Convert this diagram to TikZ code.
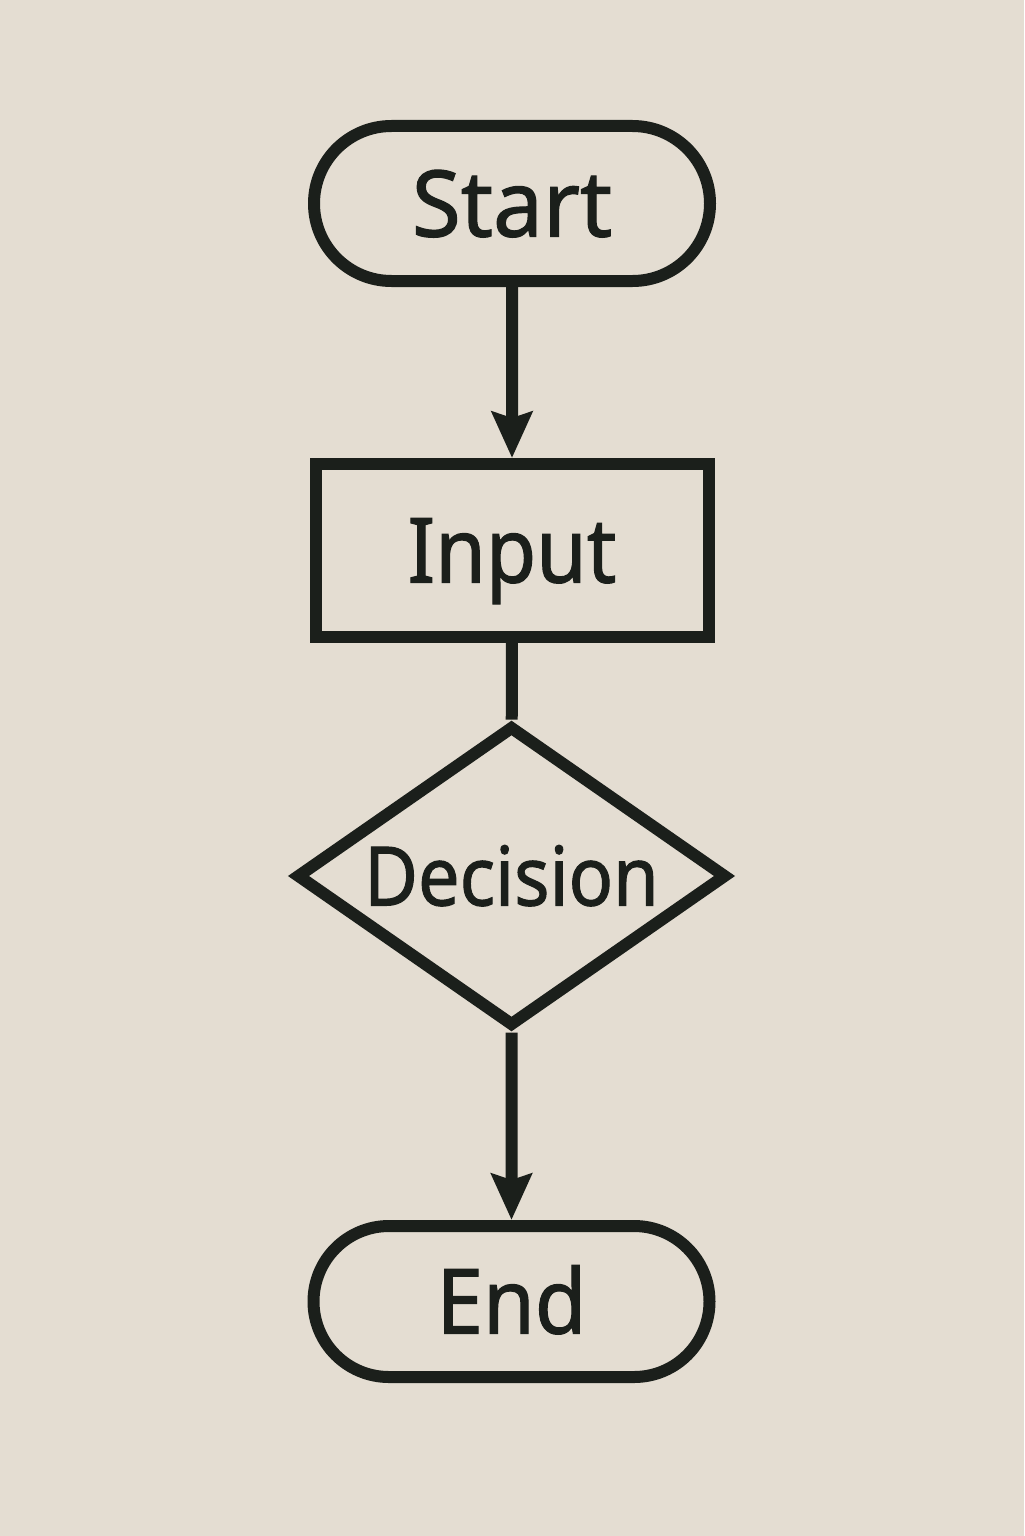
\documentclass[tikz,border=0pt]{standalone}
\usepackage{fontspec}
\setmainfont{Noto Sans}[FakeBold=1.3]
\usetikzlibrary{shapes.misc,shapes.geometric,arrows.meta}
\definecolor{paper}{HTML}{E4DDD2}
\definecolor{ink}{HTML}{1B1F1B}
\tikzset{
  base/.style={draw=ink, line width=6pt, text=ink, inner sep=0pt, outer sep=3pt},
  terminal/.style={base, rounded rectangle, minimum width=198pt},
  process/.style={base, rectangle, minimum width=196.5pt, minimum height=86.5pt},
  decision/.style={base, diamond, aspect=1.43, minimum width=215.5pt, minimum height=150.5pt},
  flow/.style={draw=ink, line width=6pt, -{Stealth[length=23pt, width=20pt, inset=3pt]}},
  plain/.style={draw=ink, line width=6pt},
}
\begin{document}
\begin{tikzpicture}[x=0.5pt,y=-0.5pt]
\useasboundingbox[fill=paper] (0,0) rectangle (1024,1536);
\node[terminal, minimum height=77.5pt, font=\fontsize{46}{46}\selectfont\bfseries, text height=33pt, text depth=0pt] (start) at (512,203.5) {\scalebox{0.97}[1]{Start}};
\node[process, font=\fontsize{45}{45}\selectfont\bfseries, text height=32pt, text depth=0pt] (input) at (512,550.5) {\scalebox{0.91}[1]{Input}};
\node[decision, font=\fontsize{41}{41}\selectfont\bfseries, text height=29.5pt, text depth=0pt] (dec) at (511.5,876) {\scalebox{0.9}[1]{Decision}};
\node[terminal, minimum height=75.5pt, font=\fontsize{45}{45}\selectfont\bfseries, text height=32pt, text depth=0pt] (end) at (511.5,1301.5) {\scalebox{0.93}[1]{End}};
\draw[flow] (start) -- (input);
\draw[plain] (input) -- (dec);
\draw[flow] (dec) -- (end);
\end{tikzpicture}
\end{document}
